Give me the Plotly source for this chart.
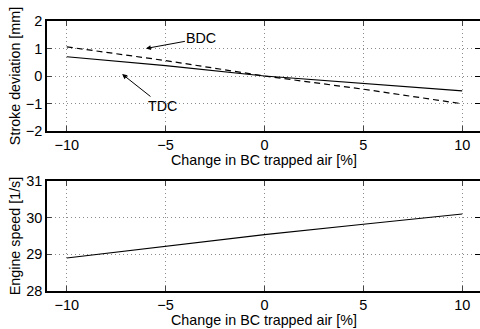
import plotly.graph_objects as go

# Data
change_pct = [-10, -5, 0, 5, 10]
tdc_dev = [0.70, 0.38, 0.0, -0.28, -0.54]
bdc_dev = [1.06, 0.56, 0.0, -0.48, -1.01]
engine_speed = [28.90, 29.23, 29.54, 29.82, 30.10]

x_ticks = [-10, -5, 0, 5, 10]
y1_ticks = [-2, -1, 0, 1, 2]
y2_ticks = [28, 29, 30, 31]
x_title = "Change in BC trapped air [%]"

FONT = "Liberation Sans, Arial, Helvetica, sans-serif"
TICK = 14.5
TITLE = 14.3
fig = go.Figure()

fig.add_trace(go.Scatter(x=change_pct, y=tdc_dev, mode="lines",
                         line=dict(color="black", width=1.2), xaxis="x", yaxis="y"))
fig.add_trace(go.Scatter(x=change_pct, y=bdc_dev, mode="lines",
                         line=dict(color="black", width=1.2, dash="6px,4px"), xaxis="x", yaxis="y"))
fig.add_trace(go.Scatter(x=change_pct, y=engine_speed, mode="lines",
                         line=dict(color="black", width=1.2), xaxis="x2", yaxis="y2"))

xcommon = dict(range=[-11, 10.9], tickvals=x_ticks, ticks="inside", ticklen=5,
               showline=True, linecolor="black", linewidth=1.5, mirror="ticks",
               showgrid=True, gridcolor="#8c8c8c", griddash="1px,3px", gridwidth=1,
               zeroline=False, tickfont=dict(size=TICK, color="black"))
ycommon = dict(ticks="inside", ticklen=5, showline=True, linecolor="black", linewidth=1.5,
               showgrid=True, gridcolor="#8c8c8c", griddash="1px,3px", gridwidth=1,
               zeroline=False, tickfont=dict(size=TICK, color="black"))

BOT = 291
H = BOT - 21
top_dom = [(BOT - 131) / H, 1]
bot_dom = [0, (BOT - 181) / H]

fig.update_layout(
    width=480, height=329,
    margin=dict(l=47, r=0, t=21, b=329 - BOT),
    paper_bgcolor="white", plot_bgcolor="white",
    showlegend=False,
    font=dict(family=FONT, color="black"),
    xaxis=dict(**xcommon, anchor="y", domain=[0, 1]),
    xaxis2=dict(**xcommon, anchor="y2", domain=[0, 1]),
    yaxis=dict(**ycommon, range=[-2, 2], tickvals=y1_ticks, domain=top_dom, anchor="x",
               title=dict(text="Stroke deviation [mm]", font=dict(size=TITLE, color="black"), standoff=2)),
    yaxis2=dict(**ycommon, range=[28, 31], tickvals=y2_ticks, domain=bot_dom, anchor="x2",
                title=dict(text="Engine speed [1/s]", font=dict(size=TITLE, color="black"), standoff=2)),
    yaxis3=dict(range=[-2, 2], tickvals=y1_ticks, overlaying="y", side="right", anchor="x",
                ticks="inside", ticklen=5, tickcolor="black", showticklabels=False,
                showgrid=False, zeroline=False, showline=False),
    yaxis4=dict(range=[28, 31], tickvals=y2_ticks, overlaying="y2", side="right", anchor="x2",
                ticks="inside", ticklen=5, tickcolor="black", showticklabels=False,
                showgrid=False, zeroline=False, showline=False),
)
# dummy traces to activate right-side tick axes
fig.add_trace(go.Scatter(x=[None], y=[None], xaxis="x", yaxis="y3", showlegend=False))
fig.add_trace(go.Scatter(x=[None], y=[None], xaxis="x2", yaxis="y4", showlegend=False))

# x-axis titles as annotations for exact placement
fig.add_annotation(x=0, xref="x", y=(BOT - 160.5) / H, yref="paper", text=x_title,
                   showarrow=False, yanchor="middle", font=dict(size=TITLE, color="black"))
fig.add_annotation(x=0, xref="x2", y=(BOT - 320) / H, yref="paper", text=x_title,
                   showarrow=False, yanchor="middle", font=dict(size=TITLE, color="black"))

fig.add_annotation(x=-6.0, y=1.0, ax=-3.19, ay=1.37, axref="x", ayref="y", xref="x", yref="y",
                   text="BDC", showarrow=True, arrowhead=2, arrowsize=1, arrowwidth=1,
                   arrowcolor="black", font=dict(size=TITLE, color="black"), standoff=0)
fig.add_annotation(x=-7.2, y=0.07, ax=-5.16, ay=-1.09, axref="x", ayref="y", xref="x", yref="y",
                   text="TDC", showarrow=True, arrowhead=2, arrowsize=1, arrowwidth=1,
                   arrowcolor="black", font=dict(size=TITLE, color="black"), standoff=0)

fig.write_html("out.html")
